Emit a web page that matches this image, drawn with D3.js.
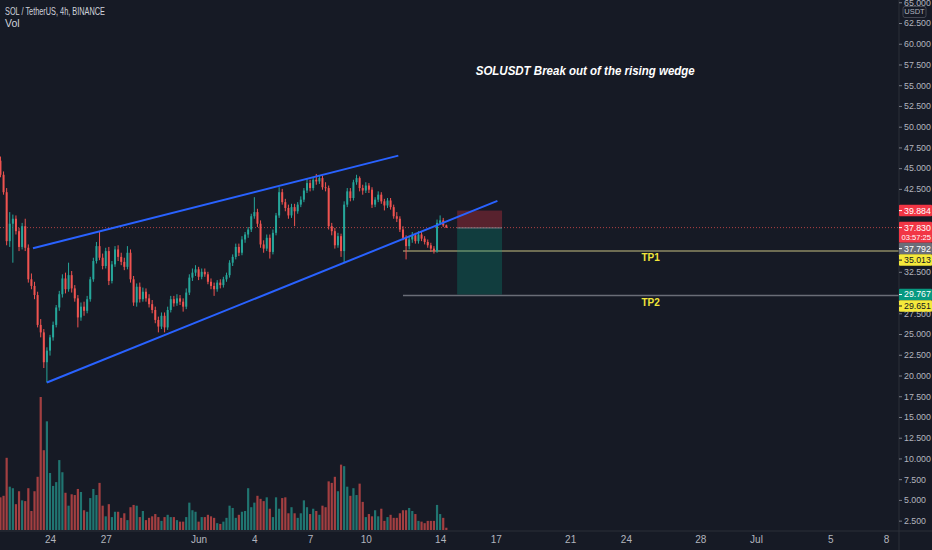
<!DOCTYPE html>
<html><head><meta charset="utf-8">
<script src="https://cdn.jsdelivr.net/npm/d3@7"></script>
<style>
html,body{margin:0;padding:0;background:#161a25;overflow:hidden;}
svg{display:block;font-family:"Liberation Sans",Arial,sans-serif;}
</style></head><body>
<svg id="c" width="932" height="550"></svg>
<script>
// ---------------- DATA ----------------
const headerSymbol = "SOL / TetherUS, 4h, BINANCE";
const headerVol = "Vol";
const candleStart = "2021-05-21T08:00:00Z";
const candleHours = 4;
// [open, high, low, close]
const ohlc = [
[45.9,46.4,43.9,44.2],[44.2,44.6,41.8,42.1],[42.1,42.6,35.7,36.2],[36.2,39.7,35.5,38.3],[38.3,39.4,33.6,38.9],
[38.9,39.3,37.0,37.4],[37.4,37.8,35.0,35.5],[35.5,38.4,35.2,38.0],[38.0,38.9,35.0,35.4],[35.4,35.8,31.2,31.6],
[31.6,32.3,30.4,30.8],[30.8,31.3,29.2,29.7],[29.7,30.1,25.8,26.1],[26.1,26.8,24.6,25.2],[25.2,25.6,20.9,21.6],
[21.6,23.4,19.15,23.0],[23.0,24.9,22.4,24.6],[24.6,26.5,24.2,26.1],[26.1,28.5,25.8,28.2],[28.2,30.2,27.8,29.8],
[29.8,32.2,29.4,31.7],[31.7,32.4,29.9,30.4],[30.4,33.6,30.1,32.1],[32.1,32.6,30.0,30.5],[30.5,30.9,28.9,29.3],
[29.3,29.7,25.8,27.0],[27.0,28.8,26.6,28.3],[28.3,28.9,27.2,27.8],[27.8,29.6,27.5,29.2],[29.2,31.9,28.9,31.6],
[31.6,34.2,31.3,33.8],[33.8,36.1,33.5,35.6],[35.6,37.3,33.9,34.2],[34.2,34.7,32.8,33.2],[33.2,35.4,32.9,35.0],
[35.0,35.5,30.9,31.4],[31.4,33.8,31.1,33.4],[33.4,35.6,33.1,35.2],[35.2,35.7,33.8,34.3],[34.3,34.8,33.3,33.7],
[33.7,34.2,32.7,33.1],[33.1,35.6,32.8,34.8],[34.8,35.2,31.2,31.6],[31.6,32.0,28.4,28.8],[28.8,31.1,28.3,30.7],
[30.7,31.2,28.8,29.2],[29.2,30.6,28.9,30.1],[30.1,30.5,28.9,29.3],[29.3,29.8,28.2,28.6],[28.6,29.1,27.5,27.9],
[27.9,28.3,26.3,26.7],[26.7,27.1,25.2,25.9],[25.9,27.6,25.6,27.2],[27.2,27.6,25.2,25.8],[25.8,28.3,25.5,27.9],
[27.9,29.6,27.6,29.2],[29.2,29.6,28.3,28.7],[28.7,29.8,28.4,29.3],[29.3,29.7,28.5,28.9],[28.9,29.3,27.7,28.3],
[28.3,30.5,28.0,30.0],[30.0,32.2,29.7,31.8],[31.8,32.9,31.4,32.4],[32.4,33.3,32.0,32.8],[32.8,33.1,31.5,31.9],
[31.9,32.9,31.6,32.5],[32.5,32.9,31.9,32.2],[32.2,32.5,31.0,31.3],[31.3,31.7,30.4,30.8],[30.8,31.2,29.6,30.4],
[30.4,31.5,30.1,31.2],[31.2,31.6,30.5,30.9],[30.9,31.9,30.6,31.6],[31.6,32.4,31.3,32.1],[32.1,33.9,31.8,33.6],
[33.6,34.6,33.2,34.3],[34.3,35.9,34.0,35.5],[35.5,35.9,34.4,34.8],[34.8,36.8,34.5,36.4],[36.4,37.3,36.0,37.0],
[37.0,37.9,36.6,37.6],[37.6,39.5,37.3,39.2],[39.2,41.5,38.9,39.7],[39.7,40.1,37.9,38.3],[38.3,38.7,35.4,35.8],
[35.8,36.3,34.8,35.3],[35.3,37.0,35.0,36.6],[36.6,37.0,34.1,34.9],[34.9,37.6,34.6,37.2],[37.2,39.6,36.9,39.3],
[39.3,42.7,39.0,42.1],[42.1,42.5,40.6,40.9],[40.9,41.3,39.8,40.2],[40.2,40.6,38.9,39.3],[39.3,40.7,39.0,40.3],
[40.3,40.7,38.0,39.8],[39.8,40.9,39.5,40.6],[40.6,41.6,40.3,41.2],[41.2,42.6,40.9,42.3],[42.3,43.8,42.0,43.2],
[43.2,43.6,42.2,42.6],[42.6,43.9,42.3,43.6],[43.6,44.3,43.0,43.4],[43.4,44.1,43.1,43.8],[43.8,44.1,42.4,42.7],
[42.7,43.3,42.2,42.6],[42.6,42.9,37.6,38.0],[38.0,38.4,36.9,37.4],[37.4,37.8,35.3,35.7],[35.7,37.2,35.4,36.8],
[36.8,37.1,34.3,35.0],[35.0,41.0,33.6,40.6],[40.6,42.6,40.3,42.2],[42.2,42.6,41.0,41.4],[41.4,43.6,41.1,43.3],
[43.3,44.2,43.0,43.8],[43.8,44.0,42.2,42.6],[42.6,43.0,41.8,42.3],[42.3,43.3,42.0,42.9],[42.9,43.2,42.0,42.4],
[42.4,42.7,40.2,40.6],[40.6,41.5,40.3,41.2],[41.2,42.2,40.9,41.8],[41.8,42.1,40.7,41.0],[41.0,41.3,39.9,40.5],
[40.5,41.4,40.2,41.1],[41.1,41.4,40.0,40.3],[40.3,40.6,38.9,39.2],[39.2,39.7,38.5,38.9],[38.9,39.2,37.3,37.6],
[37.6,38.0,36.3,36.6],[36.6,36.9,34.0,35.6],[35.6,36.8,35.2,36.4],[36.4,37.3,36.0,36.9],[36.9,37.2,35.9,36.2],
[36.2,37.4,35.9,37.0],[37.0,37.3,36.2,36.5],[36.5,36.8,35.8,36.1],[36.1,36.4,35.4,35.7],[35.7,36.0,34.9,35.3],
[35.3,35.6,34.7,35.0],[35.0,38.8,34.8,38.4],[38.4,39.3,38.2,38.7],[38.7,39.0,37.9,38.1],[38.1,38.2,37.8,37.83]
];
const volume = [
4.3,4.5,9.5,5.7,5.5,3.4,5.1,3.9,3.8,5.5,
2.5,5.1,7.0,17.5,10.5,14.3,7.5,5.8,6.3,9.2,
7.6,4.9,3.2,4.7,4.6,5.4,5.0,2.6,2.4,4.2,
5.4,4.6,6.2,3.2,1.8,3.4,1.7,2.4,2.4,1.6,
2.2,1.3,3.0,3.3,3.2,1.7,2.5,1.3,1.6,1.8,
2.1,1.7,1.2,1.7,2.0,1.7,1.7,1.3,1.1,1.1,
1.7,3.6,2.6,2.4,1.1,1.7,1.7,2.0,1.8,1.6,
0.9,0.8,1.1,1.6,3.2,2.9,1.6,2.0,2.4,2.5,
5.5,3.0,3.6,4.5,4.1,3.8,4.3,2.8,1.7,4.3,
2.8,4.2,4.3,2.2,3.0,2.2,1.6,2.2,3.9,3.0,
2.1,2.8,2.5,2.0,3.2,3.0,6.4,6.2,7.0,5.1,
8.6,8.4,5.7,4.5,5.5,4.6,6.1,3.7,1.7,2.1,
1.8,2.6,1.8,2.8,1.2,1.7,2.0,1.6,1.6,2.2,
2.6,2.6,2.9,2.5,2.1,1.2,1.1,0.9,1.2,1.2,
1.2,3.3,2.1,1.6,0.3
];
const priceTicks = [2.5,5,7.5,10,12.5,15,17.5,20,22.5,25,27.5,30,32.5,35,37.5,40,42.5,45,47.5,50,52.5,55,57.5,60,62.5,65];
const dateTicks = ["2021-05-24","2021-05-27","2021-06-01","2021-06-04","2021-06-07","2021-06-10","2021-06-14","2021-06-17","2021-06-21","2021-06-24","2021-06-28","2021-07-01","2021-07-05","2021-07-08"];
const dateTickLabels = ["24","27","Jun","4","7","10","14","17","21","24","28","Jul","5","8"];
const wedgeUpper = [["2021-05-23T02:00:00Z",35.34],["2021-06-11T18:00:00Z",46.51]];
const wedgeLower = [["2021-05-23T20:00:00Z",19.15],["2021-06-17T02:00:00Z",41.05]];
const lastPrice = 37.83;
const countdown = "03:57:25";
const stopPrice = 39.884, entryPrice = 37.792, targetPrice = 29.767;
const positionSpan = ["2021-06-14T22:00:00Z","2021-06-17T08:00:00Z"];
const tpNames = ["TP1","TP2"];
const tpPrices = [35.013, 29.651];
const tpStart = "2021-06-12T00:00:00Z";
const tpLabelDate = "2021-06-25T08:00:00Z";
const titleText = "SOLUSDT Break out of the rising wedge";
const titleAnchor = ["2021-06-15T22:00:00Z", 56.6];
const currency = "USDT";

// ---------------- CHART ----------------
const W = 932, H = 550, axisX = 899, axisY = 531;
const svg = d3.select("#c");
svg.append("rect").attr("width",W).attr("height",H).attr("fill","#161a25");

const x = d3.scaleUtc().domain([new Date("2021-05-24T00:00:00Z"), new Date("2021-07-08T00:00:00Z")]).range([50, 886]);
const y = d3.scaleLinear().domain([20, 62.5]).range([375.5, 23]);
const vy = d3.scaleLinear().domain([0, 17.5]).range([axisY - 1, 397]);
const fmt = d3.format(".3f");

const t0 = new Date(candleStart).getTime();
const bars = ohlc.map((r,i)=>({t:new Date(t0 + i*candleHours*3600e3), o:r[0], h:r[1], l:r[2], c:r[3], v:volume[i]}));

svg.append("defs").append("clipPath").attr("id","plot").append("rect").attr("width",axisX).attr("height",axisY);
const plot = svg.append("g").attr("clip-path","url(#plot)");

const up = "#26a69a", dn = "#ef5350";
// volume
plot.append("g").selectAll("rect").data(bars).join("rect")
  .attr("x", d=>x(d.t)-1.1).attr("width",2.2)
  .attr("y", d=>vy(d.v)).attr("height", d=>vy(0)-vy(d.v))
  .attr("fill", d=> d.c>=d.o ? up : dn).attr("fill-opacity",0.65);

// current price dotted line
plot.append("line").attr("x1",0).attr("x2",axisX).attr("y1",y(lastPrice)).attr("y2",y(lastPrice))
  .attr("stroke","#ef5350").attr("stroke-opacity",0.7).attr("stroke-dasharray","1,2").attr("stroke-width",1);

// TP lines
const tpColors = ["#8c8a63","#6a6d77"];
tpPrices.forEach((p,i)=>{
  plot.append("line").attr("x1",x(new Date(tpStart))).attr("x2",axisX).attr("y1",y(p)).attr("y2",y(p))
    .attr("stroke",tpColors[i]).attr("stroke-width",1.6);
  plot.append("text").attr("x",x(new Date(tpLabelDate))).attr("y",y(p)+10.5)
    .attr("text-anchor","middle").attr("fill","#f2e53a").attr("font-weight","bold")
    .attr("font-size",10).text(tpNames[i]);
});

// position tool
const px1 = x(new Date(positionSpan[0])), px2 = x(new Date(positionSpan[1]));
plot.append("rect").attr("x",px1).attr("width",px2-px1).attr("y",y(stopPrice)).attr("height",y(entryPrice)-y(stopPrice))
  .attr("fill","rgba(242,54,69,0.3)");
plot.append("rect").attr("x",px1).attr("width",px2-px1).attr("y",y(entryPrice)).attr("height",y(targetPrice)-y(entryPrice))
  .attr("fill","rgba(8,153,129,0.28)");
plot.append("line").attr("x1",px1).attr("x2",px2).attr("y1",y(entryPrice)).attr("y2",y(entryPrice))
  .attr("stroke","#7d808a").attr("stroke-width",1);

// candles
const cg = plot.append("g");
cg.selectAll("line").data(bars).join("line")
  .attr("x1",d=>x(d.t)).attr("x2",d=>x(d.t)).attr("y1",d=>y(d.h)).attr("y2",d=>y(d.l))
  .attr("stroke",d=>d.c>=d.o?up:dn).attr("stroke-width",1);
cg.selectAll("rect").data(bars).join("rect")
  .attr("x",d=>x(d.t)-1).attr("width",2)
  .attr("y",d=>y(Math.max(d.o,d.c))).attr("height",d=>Math.max(1, Math.abs(y(d.o)-y(d.c))))
  .attr("fill",d=>d.c>=d.o?up:dn);

// wedge
[wedgeUpper, wedgeLower].forEach(seg=>{
  plot.append("line")
    .attr("x1",x(new Date(seg[0][0]))).attr("y1",y(seg[0][1]))
    .attr("x2",x(new Date(seg[1][0]))).attr("y2",y(seg[1][1]))
    .attr("stroke","#2962ff").attr("stroke-width",2);
});

// title
plot.append("text").attr("x",x(new Date(titleAnchor[0]))).attr("y",y(titleAnchor[1]))
  .attr("dominant-baseline","middle").attr("fill","#ffffff").attr("font-weight","bold").attr("font-style","italic")
  .attr("font-size",13.5).attr("textLength",219).attr("lengthAdjust","spacingAndGlyphs").text(titleText);

// header
svg.append("text").attr("x",5).attr("y",15).attr("fill","#d1d4dc").attr("font-size",10.5)
  .attr("textLength",100).attr("lengthAdjust","spacingAndGlyphs").text(headerSymbol);
svg.append("text").attr("x",5).attr("y",27).attr("fill","#d1d4dc").attr("font-size",10.5).text(headerVol);

// axes lines
svg.append("line").attr("x1",0).attr("x2",W).attr("y1",axisY).attr("y2",axisY).attr("stroke","#2a2e39");
svg.append("line").attr("x1",axisX).attr("x2",axisX).attr("y1",0).attr("y2",H).attr("stroke","#2a2e39");

// price label layout (computed first so covered ticks can be dropped)
const labels = [
  {p:stopPrice, bg:"#f23645", fg:"#ffffff", lines:[fmt(stopPrice)]},
  {p:lastPrice, bg:"#f23645", fg:"#ffffff", lines:[fmt(lastPrice), countdown]},
  {p:entryPrice, bg:"#6a6d78", fg:"#ffffff", lines:[fmt(entryPrice)]},
  {p:tpPrices[0], bg:"#f5e93b", fg:"#131722", lines:[fmt(tpPrices[0])]},
  {p:targetPrice, bg:"#089981", fg:"#ffffff", lines:[fmt(targetPrice)]},
  {p:tpPrices[1], bg:"#f5e93b", fg:"#131722", lines:[fmt(tpPrices[1])]}
];
const LH = 11.5;
let prevBottom = -1e9;
labels.sort((a,b)=>y(a.p)-y(b.p)).forEach(l=>{
  let top = y(l.p) - LH/2;
  if (top < prevBottom) top = prevBottom;
  l.top = top;
  l.h = LH*l.lines.length - (l.lines.length>1?2:0);
  prevBottom = top + l.h;
});
const covered = v => labels.some(l => y(v) >= l.top && y(v) <= l.top + l.h);

// y axis
const ya = svg.append("g").attr("transform",`translate(${axisX},0)`)
  .call(d3.axisRight(y).tickValues(priceTicks.filter(v=>!covered(v))).tickFormat(fmt).tickSize(3).tickPadding(2));
ya.select(".domain").remove();
ya.selectAll(".tick line").attr("stroke","#787b86");
ya.selectAll(".tick text").attr("fill","#b2b5be").attr("font-size",8.8).attr("font-family","Liberation Sans, Arial, sans-serif");
ya.selectAll(".tick").filter(d=>y(d)>axisY-4).remove();

// x axis
const xa = svg.append("g").attr("transform",`translate(0,${axisY})`)
  .call(d3.axisBottom(x).tickValues(dateTicks.map(d=>new Date(d+"T00:00:00Z"))).tickFormat((d,i)=>dateTickLabels[i]).tickSize(0).tickPadding(5));
xa.select(".domain").remove();
xa.selectAll(".tick text").attr("fill","#b2b5be").attr("font-size",10).attr("font-family","Liberation Sans, Arial, sans-serif");

// currency box
svg.append("rect").attr("x",903).attr("y",6.5).attr("width",23).attr("height",11).attr("rx",2)
  .attr("fill","#161a25").attr("stroke","#434651");
svg.append("text").attr("x",914.5).attr("y",12.5).attr("text-anchor","middle").attr("dominant-baseline","middle")
  .attr("fill","#b2b5be").attr("font-size",7.5).text(currency);

// price labels
labels.forEach(l=>{
  const g = svg.append("g");
  g.append("rect").attr("x",axisX).attr("y",l.top).attr("width",W-axisX).attr("height",l.h).attr("fill",l.bg).attr("rx",1);
  g.append("line").attr("x1",axisX).attr("x2",axisX+3).attr("y1",l.top+LH/2).attr("y2",l.top+LH/2).attr("stroke",l.fg);
  l.lines.forEach((s,k)=>{
    g.append("text").attr("x",k?901.5:904).attr("y",l.top+LH/2+k*(LH-2)).attr("dominant-baseline","central")
      .attr("fill",l.fg).attr("font-size",k?7.6:8.8).text(s);
  });
});
</script>
</body></html>
